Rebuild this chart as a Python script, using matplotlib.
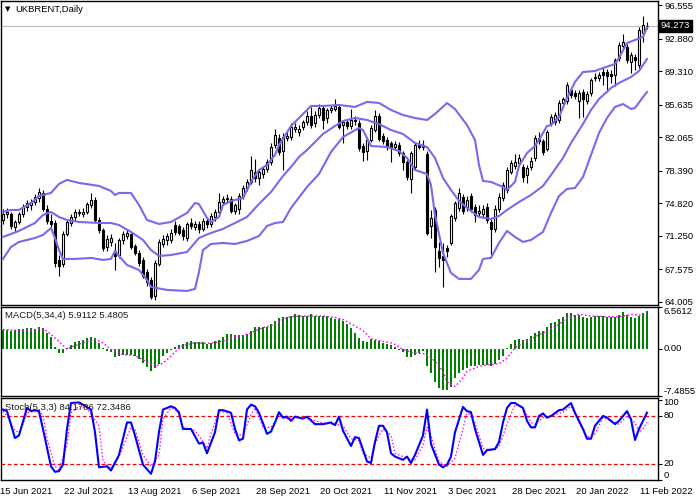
import matplotlib
matplotlib.use("Agg")
import matplotlib.pyplot as plt
import matplotlib.transforms as mtransforms
import numpy as np

# ---- price data (daily candles, UKBRENT) ----
opens = [
    73.0, 73.7, 73.6, 72.2, 72.8, 73.6, 74.4, 74.6, 75.0, 75.4,
    76.0, 74.2, 72.9, 72.7, 68.6, 68.2, 71.5, 72.7, 73.3, 73.9,
    73.7, 73.9, 74.6, 75.2, 73.0, 71.9, 70.0, 70.6, 69.6, 69.2,
    70.8, 71.2, 71.4, 70.1, 69.4, 68.6, 67.3, 66.4, 64.7, 68.2,
    70.4, 70.8, 70.8, 72.4, 72.3, 71.9, 71.0, 72.7, 72.2, 72.6,
    72.0, 72.9, 72.5, 73.3, 73.9, 75.0, 75.3, 75.3, 74.0, 74.2,
    75.6, 76.5, 77.2, 78.3, 77.6, 78.0, 78.6, 79.3, 81.2, 82.0,
    80.6, 82.0, 82.1, 83.0, 82.6, 83.2, 83.7, 84.4, 83.6, 84.5,
    85.3, 84.2, 85.0, 85.2, 85.4, 83.4, 83.7, 83.3, 83.8, 83.6,
    81.1, 80.5, 81.8, 82.9, 84.4, 82.2, 81.8, 81.4, 81.0, 81.2,
    80.3, 79.3, 77.5, 78.8, 81.2, 81.0, 80.2, 72.3, 74.1, 69.6,
    69.0, 69.9, 70.5, 73.2, 74.3, 75.5, 74.4, 75.6, 74.4, 73.8,
    73.6, 74.4, 72.8, 72.0, 74.2, 75.4, 76.3, 78.3, 78.9, 79.2,
    78.8, 77.9, 78.8, 79.8, 82.0, 81.6, 80.8, 83.6, 83.7, 83.9,
    85.8, 86.0, 87.2, 86.9, 86.0, 87.0, 86.0, 86.9, 88.5, 88.5,
    89.2, 89.2, 89.0, 88.9, 90.7, 92.1, 92.0, 90.3, 90.9, 90.0,
    93.5, 94.2,
]
highs = [
    74.2, 74.3, 73.9, 73.0, 73.9, 74.7, 75.2, 75.3, 75.8, 76.5,
    76.3, 74.6, 73.6, 73.0, 69.2, 71.8, 73.0, 73.6, 74.2, 74.2,
    74.3, 75.0, 76.0, 75.5, 73.3, 72.1, 71.3, 71.5, 70.5, 71.0,
    71.8, 71.9, 71.6, 70.4, 69.7, 68.9, 67.6, 66.7, 68.6, 70.9,
    71.3, 71.6, 72.0, 72.9, 72.6, 72.2, 72.8, 73.2, 72.9, 72.9,
    73.2, 73.3, 73.8, 74.2, 76.0, 75.6, 75.8, 75.6, 74.9, 75.9,
    76.8, 77.5, 80.0, 79.7, 78.6, 78.9, 79.7, 81.4, 83.0, 82.4,
    82.5, 82.6, 83.6, 83.6, 83.4, 84.0, 84.9, 85.4, 84.9, 85.7,
    85.6, 85.3, 85.6, 86.2, 85.7, 84.0, 84.0, 85.2, 84.4, 83.9,
    81.4, 82.1, 83.4, 85.0, 84.7, 82.5, 82.1, 81.7, 81.6, 81.5,
    80.6, 79.6, 80.6, 81.5, 81.8, 81.8, 80.5, 74.1, 74.4, 70.6,
    70.5, 70.3, 73.7, 75.1, 76.5, 75.8, 75.6, 75.9, 74.7, 74.6,
    74.6, 74.8, 73.1, 74.6, 75.9, 77.1, 78.8, 79.6, 80.2, 80.2,
    79.1, 79.0, 79.9, 82.3, 82.6, 81.9, 82.9, 84.6, 84.8, 86.1,
    86.5, 88.1, 87.5, 87.2, 87.2, 87.3, 87.1, 88.6, 89.1, 89.2,
    89.6, 89.5, 89.4, 90.8, 92.5, 93.4, 92.3, 91.4, 91.2, 94.1,
    95.3, 94.7,
]
lows = [
    72.6, 73.2, 72.0, 71.8, 72.5, 73.3, 74.0, 74.1, 74.6, 75.0,
    74.0, 72.6, 72.2, 67.8, 66.9, 67.8, 71.2, 72.3, 72.9, 73.4,
    73.3, 73.6, 74.3, 72.8, 71.6, 69.6, 69.6, 70.1, 67.5, 68.8,
    70.4, 70.9, 69.8, 69.1, 68.0, 66.6, 65.8, 64.3, 64.2, 67.9,
    70.0, 70.3, 70.5, 71.3, 71.3, 70.8, 70.7, 72.0, 71.9, 71.6,
    71.8, 72.1, 72.2, 72.9, 73.6, 74.6, 74.9, 73.8, 73.7, 73.6,
    75.3, 76.2, 76.9, 77.1, 76.8, 77.6, 78.3, 79.0, 80.9, 80.1,
    78.5, 81.6, 81.8, 82.6, 82.2, 82.9, 83.4, 83.1, 83.2, 84.2,
    83.0, 83.6, 84.7, 84.9, 83.0, 81.4, 83.0, 83.0, 83.4, 80.6,
    79.5, 79.6, 81.5, 82.6, 81.6, 81.3, 80.7, 79.4, 80.7, 80.0,
    78.5, 77.4, 76.0, 78.5, 80.8, 80.7, 71.3, 71.0, 67.3, 67.8,
    65.6, 68.9, 70.2, 72.9, 74.0, 73.7, 74.0, 73.9, 72.8, 73.3,
    73.2, 72.7, 69.2, 71.7, 73.9, 75.1, 76.0, 78.0, 78.6, 78.9,
    77.1, 77.0, 78.5, 79.5, 81.3, 80.1, 80.5, 83.3, 83.4, 83.6,
    85.5, 85.7, 86.4, 86.2, 84.2, 84.3, 85.7, 86.6, 88.2, 88.2,
    87.8, 87.0, 88.0, 87.7, 90.4, 91.8, 90.2, 89.1, 89.4, 89.7,
    92.5, 93.9,
]
closes = [
    73.7, 73.9, 72.3, 72.8, 73.7, 74.4, 74.8, 75.0, 75.5, 76.1,
    74.2, 72.9, 72.6, 68.3, 68.0, 71.5, 72.8, 73.3, 73.9, 73.8,
    73.9, 74.7, 75.2, 73.0, 71.9, 69.9, 70.9, 71.0, 69.0, 70.8,
    71.4, 71.6, 70.0, 69.4, 68.3, 66.9, 66.2, 64.6, 68.3, 70.6,
    70.9, 71.2, 71.6, 71.7, 71.6, 71.2, 72.5, 72.3, 72.6, 72.0,
    72.9, 72.5, 73.4, 73.9, 75.0, 75.3, 75.4, 74.0, 74.6, 75.6,
    76.5, 77.2, 78.5, 77.6, 78.2, 78.6, 79.4, 81.0, 82.3, 80.4,
    82.1, 82.2, 83.2, 83.2, 83.0, 83.7, 84.4, 83.4, 84.5, 85.3,
    83.9, 85.0, 85.3, 85.5, 83.2, 83.7, 83.3, 84.0, 84.0, 80.9,
    80.4, 81.8, 83.1, 84.4, 81.9, 81.6, 81.0, 81.0, 81.3, 80.3,
    79.3, 77.7, 80.3, 81.2, 81.0, 81.2, 71.6, 73.2, 70.0, 68.8,
    68.6, 69.6, 73.4, 74.8, 75.9, 74.0, 75.2, 74.2, 73.5, 74.0,
    74.2, 73.0, 72.0, 74.2, 75.5, 76.8, 78.5, 79.2, 79.3, 79.8,
    77.7, 78.7, 79.5, 82.0, 81.6, 80.4, 82.6, 84.3, 84.5, 85.8,
    86.2, 87.8, 86.7, 86.6, 86.9, 86.3, 86.8, 88.3, 88.7, 88.9,
    88.9, 88.8, 88.8, 90.5, 92.2, 92.5, 90.5, 91.1, 90.5, 93.8,
    94.4, 94.27,
]
last_price = 94.273

# ---- Bollinger bands, read at selected bars ----
bb_up_idx = [0, 2, 4, 7, 9, 12, 14, 16, 19, 24, 27, 28, 29, 32, 34, 36, 39, 42, 46,
             48, 49, 51, 52, 54, 55, 57, 60, 62, 64, 66, 68, 69, 72, 74, 77, 80, 84,
             88, 91, 94, 97, 100, 103, 106, 108, 111, 113, 116, 118, 119, 120, 122,
             125, 126, 128, 129, 131, 133, 134, 136, 137, 139, 141, 143, 145, 148,
             150, 153, 154, 156, 158, 160, 161]
bb_up = [73.87, 74.09, 74.09, 74.85, 75.62, 75.95, 76.94, 77.38, 77.05, 76.72, 76.17,
         75.73, 75.95, 75.95, 74.64, 72.99, 72.55, 72.77, 73.76, 74.85, 74.74, 73.21,
         72.77, 73.32, 74.64, 75.07, 75.40, 77.16, 78.47, 79.02, 80.11, 81.21, 83.29,
         84.17, 85.49, 85.49, 85.60, 85.38, 85.93, 85.82, 85.05, 84.50, 84.17, 83.95,
         84.61, 85.81, 85.16, 83.40, 81.76, 79.02, 77.27, 77.16, 76.61, 76.28, 77.16,
         78.91, 80.33, 81.10, 81.76, 83.29, 83.40, 84.28, 86.36, 88.12, 89.21, 89.32,
         89.65, 90.09, 90.75, 92.39, 92.72, 93.05, 94.1]
bb_mid_idx = [0, 4, 8, 10, 12, 14, 16, 19, 24, 27, 29, 32, 35, 37, 39, 42, 46, 49, 52,
              55, 58, 61, 64, 67, 70, 72, 74, 76, 78, 80, 83, 85, 88, 91, 94, 97, 100,
              103, 106, 108, 110, 112, 114, 116, 119, 122, 124, 126, 129, 132, 135,
              137, 140, 142, 145, 147, 149, 152, 154, 157, 159, 161]
bb_mid = [71.13, 71.79, 72.66, 73.54, 73.87, 73.32, 72.99, 72.77, 72.66, 72.66, 72.44,
          71.68, 70.80, 69.70, 69.05, 69.15, 69.48, 71.02, 71.57, 72.01, 72.66, 73.32,
          74.75, 76.06, 77.81, 78.80, 79.90, 80.66, 81.54, 82.42, 83.29, 83.84, 84.17,
          83.95, 83.51, 82.85, 82.42, 81.43, 80.99, 79.79, 77.59, 76.28, 75.07, 74.31,
          73.32, 73.10, 73.43, 74.09, 74.96, 75.73, 76.72, 77.92, 79.79, 81.43, 83.51,
          85.05, 86.25, 87.46, 88.01, 88.66, 89.32, 90.64]
bb_low_idx = [0, 2, 4, 8, 10, 12, 13, 14, 15, 18, 22, 25, 27, 28, 29, 31, 34, 36, 37,
              41, 46, 48, 49, 50, 52, 55, 58, 61, 64, 66, 68, 70, 72, 76, 79, 82, 85,
              89, 90, 92, 96, 99, 101, 103, 106, 107, 108, 110, 112, 114, 117, 119,
              120, 122, 124, 126, 128, 130, 132, 135, 137, 139, 141, 143, 145, 147,
              149, 151, 153, 155, 157, 158, 160, 161]
bb_low = [68.72, 70.03, 70.58, 71.02, 71.35, 72.11, 71.02, 69.70, 68.72, 68.72, 68.83,
          68.61, 68.72, 69.59, 69.04, 68.06, 67.51, 66.42, 65.65, 65.32, 65.21, 65.43,
          67.29, 69.70, 70.36, 70.47, 70.36, 70.69, 71.24, 72.33, 72.66, 72.77, 74.30,
          76.61, 78.03, 80.44, 82.09, 83.07, 82.85, 81.10, 80.99, 80.55, 79.79, 78.47,
          78.03, 76.83, 73.54, 69.37, 67.18, 66.53, 66.53, 67.51, 68.72, 68.83, 70.47,
          71.79, 71.13, 70.58, 70.80, 71.68, 73.76, 75.62, 76.39, 76.50, 77.70, 80.11,
          82.53, 84.17, 85.38, 85.70, 85.16, 85.27, 86.47, 87.02]

# ---- MACD(5,34,4) ----
macd_hist = [
    3.0, 3.0, 2.85, 2.9, 3.1, 3.1, 3.2, 3.3, 3.1, 3.4,
    3.2, 2.5, 1.8, 0.25, -0.75, -0.7, 0.1, 0.6, 1.1, 1.25,
    1.4, 1.7, 1.9, 1.7, 0.9, 0.1, -0.35, -0.6, -1.35, -1.15,
    -1.0, -1.0, -1.0, -1.25, -1.7, -2.25, -2.85, -3.6, -3.1, -2.5,
    -1.25, -0.65, -0.25, 0.25, 0.5, 0.75, 1.0, 1.15, 1.0, 1.0,
    1.0, 0.75, 0.9, 1.15, 1.4, 1.9, 2.25, 2.35, 2.1, 2.1,
    2.1, 2.25, 2.85, 3.4, 3.4, 3.4, 3.4, 3.85, 4.35, 4.85,
    5.0, 5.0, 5.2, 5.45, 5.3, 5.1, 5.1, 5.45, 5.1, 5.1,
    5.1, 5.1, 4.85, 4.7, 4.6, 4.35, 3.85, 3.2, 2.5, 1.7,
    1.15, 1.0, 1.45, 1.3, 1.15, 0.9, 0.65, 0.5, 0.25, -0.25,
    -0.6, -1.3, -1.3, -0.95, -0.7, -0.4, -2.8, -3.9, -5.2, -6.25,
    -6.5, -6.6, -6.0, -4.65, -3.9, -3.35, -3.05, -2.8, -2.7, -2.55,
    -2.55, -2.55, -2.8, -2.4, -1.75, -1.1, 0.05, 0.8, 1.3, 1.55,
    1.3, 1.55, 1.95, 2.5, 2.85, 2.85, 3.45, 4.0, 4.2, 4.65,
    5.0, 5.55, 5.55, 5.3, 5.3, 5.05, 4.9, 5.05, 5.15, 5.15,
    5.15, 5.05, 4.95, 4.95, 5.3, 5.75, 5.3, 5.05, 4.8, 5.15,
    5.55, 5.9112,
]
macd_sig_idx = [0, 5, 10, 11, 14, 16, 17, 20, 23, 25, 27, 30, 33, 35, 38, 40, 42, 44,
                45, 48, 51, 55, 58, 60, 62, 65, 68, 70, 72, 76, 80, 83, 85, 87, 90, 92,
                94, 97, 98, 100, 103, 105, 106, 108, 110, 111, 113, 115, 116, 119, 121,
                124, 126, 128, 130, 132, 134, 136, 139, 141, 144, 147, 150, 154, 157,
                160, 161]
macd_sig = [3.0, 2.85, 3.1, 2.75, 1.15, -0.15, 0.25, 0.9, 1.45, 0.9, -0.2, -0.95,
            -1.1, -1.75, -2.8, -2.3, -1.2, 0.1, 0.5, 0.9, 0.8, 1.15, 1.95, 2.05, 2.5,
            3.3, 3.8, 4.6, 5.05, 5.15, 5.15, 4.9, 4.6, 3.9, 2.85, 1.55, 1.25, 0.9, 0.65,
            -0.15, -0.7, -0.8, -0.95, -2.0, -3.6, -5.2, -6.0, -4.65, -3.6, -2.8, -2.55,
            -2.4, -1.5, 0.1, 0.9, 1.45, 2.2, 2.75, 3.8, 4.9, 5.4, 5.15, 5.05, 5.0, 5.4,
            5.25, 5.4805]
macd_max, macd_min = 6.5612, -7.4855

# ---- Stochastic(5,3,3) ----
stoch_idx = [0, 1, 3, 4, 6, 7, 8, 9, 10, 12, 13, 14, 15, 16, 17, 19, 20, 22, 23, 24,
             26, 27, 29, 31, 32, 33, 35, 37, 38, 39, 40, 42, 43, 44, 45, 47, 49, 50,
             51, 53, 54, 55, 57, 58, 59, 60, 61, 62, 63, 64, 66, 67, 68, 69, 70, 71,
             72, 73, 75, 76, 78, 80, 82, 83, 84, 85, 87, 88, 89, 91, 92, 93, 94, 95,
             96, 97, 98, 100, 101, 102, 103, 105, 106, 107, 109, 110, 111, 112, 113,
             115, 116, 117, 118, 119, 120, 121, 123, 124, 125, 126, 127, 128, 130,
             131, 132, 133, 134, 135, 136, 137, 139, 140, 142, 143, 145, 146, 147,
             148, 150, 151, 153, 154, 156, 157, 158, 159, 160, 161]
stoch_main = [88.1, 86.1, 52.4, 55.7, 90.1, 86.1, 87.3, 86.1, 63.8, 17.1, 10.2, 11.1,
              19.2, 63.8, 96.2, 97.0, 94.2, 88.1, 59.7, 15.9, 17.1, 11.9, 31.3, 71.9,
              71.9, 55.7, 19.2, 7.8, 23.2, 59.7, 88.1, 92.1, 90.1, 84.0, 63.8, 63.8,
              45.5, 46.7, 33.4, 59.7, 87.3, 87.3, 84.0, 63.8, 49.6, 51.6, 88.1, 94.2,
              92.1, 84.0, 57.7, 60.5, 71.9, 84.8, 77.9, 79.2, 73.9, 79.2, 76.7, 79.2,
              69.8, 69.8, 71.9, 68.6, 79.2, 61.7, 42.5, 53.6, 52.4, 23.2, 21.2, 47.5,
              67.8, 67.8, 59.7, 33.4, 29.3, 25.2, 29.3, 21.2, 31.3, 55.7, 88.0, 45.0,
              19.2, 15.9, 19.2, 29.3, 59.7, 91.3, 86.1, 84.8, 63.8, 47.5, 31.3, 37.4,
              38.6, 47.5, 71.9, 90.1, 96.2, 96.2, 90.1, 73.9, 65.8, 65.8, 80.0, 83.2,
              77.9, 80.0, 87.3, 88.1, 96.2, 84.0, 63.8, 51.6, 51.6, 67.8, 80.0, 78.0,
              69.8, 73.9, 86.1, 75.9, 50.0, 63.8, 74.0, 84.1786]
stoch_sig_idx = [0, 1, 3, 4, 5, 6, 8, 10, 11, 13, 14, 16, 17, 19, 21, 24, 25, 27, 29,
                 32, 33, 35, 37, 39, 40, 42, 44, 45, 48, 50, 51, 52, 54, 56, 58, 60, 62,
                 63, 65, 67, 69, 71, 74, 77, 80, 83, 85, 87, 89, 90, 92, 93, 95, 97, 98,
                 101, 103, 105, 106, 107, 109, 111, 113, 115, 116, 118, 120, 122, 124,
                 126, 128, 130, 132, 133, 135, 137, 140, 142, 144, 146, 148, 150, 152,
                 154, 156, 158, 159, 160, 161]
stoch_sig = [86.1, 80.0, 61.7, 59.7, 69.8, 84.0, 86.1, 82.0, 51.6, 17.1, 13.1, 43.5,
             84.0, 92.1, 90.1, 67.8, 23.2, 15.1, 29.3, 65.8, 63.8, 31.3, 17.1, 31.3,
             75.9, 90.1, 86.1, 65.8, 61.7, 47.5, 39.4, 57.7, 86.1, 84.0, 57.7, 55.7,
             82.0, 90.1, 65.8, 65.8, 80.0, 76.7, 78.0, 75.9, 71.1, 69.8, 67.8, 51.6,
             49.6, 33.4, 27.3, 45.5, 63.8, 55.7, 33.4, 27.3, 25.2, 43.5, 65.8, 55.7,
             23.2, 17.1, 27.3, 63.8, 86.1, 71.9, 39.4, 37.4, 41.5, 69.8, 94.2, 90.1,
             71.9, 69.8, 78.0, 80.0, 84.8, 92.1, 71.9, 53.6, 57.7, 78.0, 73.9, 69.8,
             80.0, 71.9, 59.7, 64.0, 72.3486]

price_ticks = [96.555, 92.880, 89.310, 85.635, 82.065, 78.390, 74.820, 71.250, 67.575, 64.005]
date_labels = ["15 Jun 2021", "22 Jul 2021", "13 Aug 2021", "6 Sep 2021", "28 Sep 2021",
               "20 Oct 2021", "11 Nov 2021", "3 Dec 2021", "28 Dec 2021", "20 Jan 2022",
               "11 Feb 2022"]
date_idx = [0, 16, 32, 48, 64, 80, 96, 112, 128, 144, 160]

# ---- layout (pixel boxes of the MT4 sub-windows) ----
plt.rcParams["font.family"] = ["Liberation Sans", "DejaVu Sans"]
FS = 6.8
W, H = 696, 500


def box(x0, y0, x1, y1):
    return [x0 / W, 1 - y1 / H, (x1 - x0) / W, (y1 - y0) / H]


fig = plt.figure(figsize=(W / 100, H / 100), dpi=100)
ax_main = fig.add_axes(box(0.5, 0.5, 658, 305))
ax_macd = fig.add_axes(box(0.5, 307, 658, 396))
ax_stoch = fig.add_axes(box(0.5, 398, 658, 480))

n = len(closes)
idx = np.arange(n)
x_lo, x_hi = -0.62, 163.75

for ax in (ax_main, ax_macd, ax_stoch):
    ax.set_xlim(x_lo, x_hi)
    ax.set_xticks([])
    for sp in ax.spines.values():
        sp.set_color("black")
        sp.set_linewidth(1.0)
    ax.yaxis.tick_right()
    ax.tick_params(axis="y", direction="out", length=3, width=0.8, pad=2,
                   labelsize=FS, colors="black")

# ---- main chart ----
o = np.array(opens)
h = np.array(highs)
l = np.array(lows)
c = np.array(closes)
up = c >= o
body_lo = np.minimum(o, c)
body_h = np.maximum(np.abs(c - o), 0.06)

ax_main.axhline(last_price, color="#C0C0C0", lw=0.9, zorder=1)
ax_main.vlines(idx, l, h, color="black", lw=0.8, zorder=2)
ax_main.bar(idx[up], body_h[up], bottom=body_lo[up], width=0.62, facecolor="white",
            edgecolor="black", linewidth=0.8, zorder=3)
ax_main.bar(idx[~up], body_h[~up], bottom=body_lo[~up], width=0.62, facecolor="black",
            edgecolor="black", linewidth=0.8, zorder=3)

band_color = "#7B68EE"
ax_main.plot(bb_up_idx, bb_up, color=band_color, lw=1.5, zorder=4)
ax_main.plot(bb_mid_idx, bb_mid, color=band_color, lw=1.5, zorder=4)
ax_main.plot(bb_low_idx, bb_low, color=band_color, lw=1.5, zorder=4)

ax_main.set_ylim(63.67, 97.05)
ax_main.set_yticks(price_ticks)
ax_main.set_yticklabels([f"{v:.3f}" for v in price_ticks])

trans_main = mtransforms.blended_transform_factory(ax_main.transAxes, ax_main.transData)
ax_main.text(1.004, last_price, f"{last_price:.3f}", transform=trans_main, ha="left",
             va="center", fontsize=FS, color="white", zorder=10, clip_on=False,
             bbox=dict(boxstyle="square,pad=0.18", facecolor="black", edgecolor="black"))

fig.text(5 / W, 1 - 9.5 / H, "\u25BC", fontsize=5, ha="left", va="center",
         family=["DejaVu Sans"])
fig.text(15 / W, 1 - 9.5 / H, "UKBRENT,Daily", fontsize=FS, ha="left", va="center")

# ---- MACD ----
ax_macd.bar(idx, macd_hist, width=0.72, color="#008000", zorder=2)
ax_macd.plot(macd_sig_idx, macd_sig, color="#FF00FF", lw=1.0, linestyle=(0, (1.2, 1.6)),
             zorder=3)
ax_macd.set_ylim(macd_min, macd_max)
ax_macd.set_yticks([macd_max, 0, macd_min])
ax_macd.set_yticklabels([])
trans_macd = mtransforms.blended_transform_factory(ax_macd.transAxes, ax_macd.transData)
ax_macd.text(1.008, macd_max, f"{macd_max:.4f}", transform=trans_macd, ha="left",
             va="top", fontsize=FS)
ax_macd.text(1.008, 0, "0.00", transform=trans_macd, ha="left", va="center", fontsize=FS)
ax_macd.text(1.008, macd_min, f"{macd_min:.4f}", transform=trans_macd, ha="left",
             va="bottom", fontsize=FS)
fig.text(5 / W, 1 - 316 / H, f"MACD(5,34,4) {macd_hist[-1]:.4f} {macd_sig[-1]:.4f}",
         fontsize=FS, ha="left", va="center", color="#1a1a1a")

# ---- Stochastic ----
for lvl in (80, 20):
    ax_stoch.axhline(lvl, color="#FF0000", lw=0.9, linestyle=(0, (3, 2)), zorder=1)
ax_stoch.plot(stoch_sig_idx, stoch_sig, color="#FF00FF", lw=0.9, linestyle=(0, (1.2, 1.6)),
              zorder=2)
ax_stoch.plot(stoch_idx, stoch_main, color="#0000FF", lw=1.5, zorder=3)
ax_stoch.set_ylim(0, 102.5)
ax_stoch.set_yticks([100, 80, 20, 0])
ax_stoch.set_yticklabels([])
trans_st = mtransforms.blended_transform_factory(ax_stoch.transAxes, ax_stoch.transData)
ax_stoch.text(1.008, 102.0, "100", transform=trans_st, ha="left", va="top", fontsize=FS)
ax_stoch.text(1.008, 80, "80", transform=trans_st, ha="left", va="center", fontsize=FS)
ax_stoch.text(1.008, 20, "20", transform=trans_st, ha="left", va="center", fontsize=FS)
ax_stoch.text(1.008, 0.5, "0", transform=trans_st, ha="left", va="bottom", fontsize=FS)
fig.text(5 / W, 1 - 407 / H, f"Stoch(5,3,3) {stoch_main[-1]:.4f} {stoch_sig[-1]:.4f}",
         fontsize=FS, ha="left", va="center", color="#1a1a1a")

# date labels under the last window
trans_dates = mtransforms.blended_transform_factory(ax_stoch.transData, ax_stoch.transAxes)
for i, lab in zip(date_idx, date_labels):
    ax_stoch.text(i - 0.7, -0.14, lab, transform=trans_dates, ha="left", va="center",
                  fontsize=FS, clip_on=False)

fig.savefig("out.png", dpi=100)
